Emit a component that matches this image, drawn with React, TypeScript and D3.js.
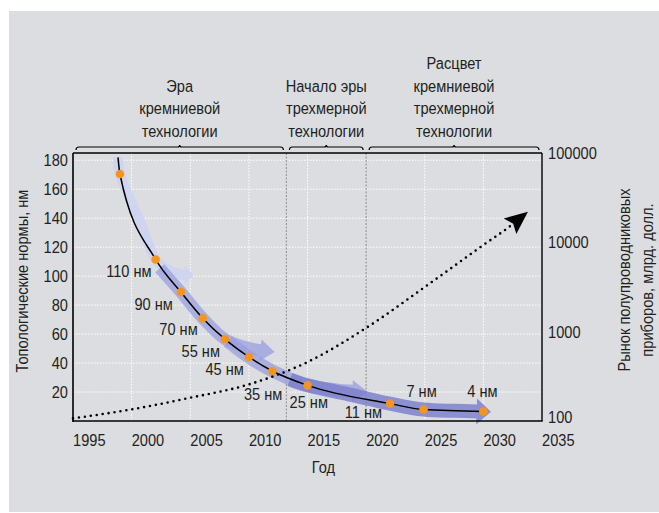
import React from "react";
import * as d3 from "d3";

const W = 659;
const H = 513;
const FONT = "'Liberation Sans', Arial, sans-serif";
const SX = 0.86; // horizontal condensing of the text

// ---- data ----
const xTicks = [1995, 2000, 2005, 2010, 2015, 2020, 2025, 2030, 2035];
const gridYears = [2000, 2005, 2010, 2015, 2025, 2030];
const yTicks = [20, 40, 60, 80, 100, 120, 140, 160, 180];
const rightTicks = [100, 1000, 10000, 100000];
const eraBoundaries = [2013.2, 2020];
const eraStarts = [1995, 2013.2, 2020];
const eraEnds = [2013.2, 2020, 2035];
const eraTitles = [
  ["Эра", "кремниевой", "технологии"],
  ["Начало эры", "трехмерной", "технологии"],
  ["Расцвет", "кремниевой", "трехмерной", "технологии"],
];

const lineStartYear = 1998.84;
const lineStartValue = 182;
const nodeYears = [1999.0, 2002.05, 2004.2, 2006.06, 2007.96, 2010.0, 2012.0, 2015.0, 2022.04, 2024.9, 2030.0];
const nodeValues = [170.5, 111.5, 89, 71, 56.5, 44.2, 34.5, 24.6, 12, 7.9, 6.6];
const nodeLabels = ["", "110 нм", "90 нм", "70 нм", "55 нм", "45 нм", "35 нм", "25 нм", "11 нм", "7 нм", "4 нм"];

const marketYears = [1995, 2000, 2005, 2010, 2015, 2020, 2025, 2030, 2032.5, 2033.8];
const marketValues = [107, 135, 182, 257, 457, 1100, 3160, 9330, 16000, 22000];

// trend arrows along the curve (year, nm); last point = arrow tip
const arrow1Years = [1998.84, 1999.0, 2000.7, 2002.05, 2002.95, 2004.1, 2004.65, 2005.3];
const arrow1Values = [182, 170.5, 138, 111.5, 105, 101.5, 100.8, 100.8];
const arrow2Years = [2002.4, 2004.2, 2006.06, 2007.96, 2009.5, 2011.1, 2012.2];
const arrow2Values = [105.5, 89, 71, 56.5, 51.5, 48.6, 47.6];
const arrow3Years = [2008.2, 2010.0, 2012.03, 2015.0, 2017.43, 2018.96, 2020.16];
const arrow3Values = [55, 44.2, 34.5, 24.6, 21.5, 20.5, 20.1];
const arrow4Years = [2013.5, 2015.0, 2018.6, 2022.04, 2024.9, 2027.6, 2029.55, 2030.65];
const arrow4Values = [28.7, 24.6, 18.2, 12, 7.9, 7.0, 6.6, 6.3];

// ---- layout ----
const labelDx = [0, -4, -8, -5, -5, -5, 10, -18, -8, -2, -1];
const labelDy = [0, 18, 18, 17, 17.5, 18, 29, 23, 14.7, -13, -14.5];
const labelAnchor = ["end", "end", "end", "end", "end", "end", "end", "start", "end", "middle", "middle"];

const x = d3.scaleLinear().domain([1995, 2035]).range([73, 542]);
const y = d3.scaleLinear().domain([0, 185]).range([421, 153]);
const yR = d3.scaleLog().domain([100, 100000]).range([421, 153]);

type P = [number, number];

function T(props: { x: number; y: number; rot?: number; anchor?: string; dy?: string; size?: number; children: any }) {
  const { x: tx, y: ty, rot = 0, anchor = "start", dy, size = 17, children } = props;
  return (
    <text
      transform={`translate(${tx},${ty}) rotate(${rot}) scale(${SX},1)`}
      textAnchor={anchor as any}
      dy={dy}
      fontSize={size}
      fill="#231f20"
    >
      {children}
    </text>
  );
}

function bandArrow(years: number[], values: number[], headW: number) {
  const px: P[] = years.map((yr, i) => [x(yr), y(values[i])]);
  const tip = px[px.length - 1];
  const base = px[px.length - 2];
  const body = px.slice(0, -1);
  const d = d3.line<P>().curve(d3.curveCatmullRom.alpha(0.5))(body) || "";
  const dx = tip[0] - base[0];
  const dy = tip[1] - base[1];
  const len = Math.hypot(dx, dy);
  const nx = -dy / len;
  const ny = dx / len;
  const ux = dx / len;
  const uy = dy / len;
  const b0: P = [base[0] - ux * 1.5, base[1] - uy * 1.5];
  const head = [
    [b0[0] + (nx * headW) / 2, b0[1] + (ny * headW) / 2],
    tip,
    [b0[0] - (nx * headW) / 2, b0[1] - (ny * headW) / 2],
  ]
    .map((p) => p.join(","))
    .join(" ");
  return { d, head };
}

function bracketPath(x0: number, x1: number, yb: number) {
  const xm = (x0 + x1) / 2;
  return `M${x0},${yb + 3} Q${x0},${yb} ${x0 + 3},${yb} H${xm - 2} Q${xm},${yb} ${xm},${yb - 2} Q${xm},${yb} ${xm + 2},${yb} H${x1 - 3} Q${x1},${yb} ${x1},${yb + 3}`;
}

export default function App() {
  const linePts: P[] = [[x(lineStartYear), y(lineStartValue)], ...nodeYears.map((yr, i) => [x(yr), y(nodeValues[i])] as P)];
  const mainLine = d3.line<P>().curve(d3.curveMonotoneX)(linePts) || "";

  const mPts: P[] = marketYears.map((yr, i) => [x(yr), yR(marketValues[i])]);
  const mTip = mPts[mPts.length - 1];
  const mPrev = mPts[mPts.length - 2];
  const mLen = Math.hypot(mTip[0] - mPrev[0], mTip[1] - mPrev[1]);
  const ux = (mTip[0] - mPrev[0]) / mLen;
  const uy = (mTip[1] - mPrev[1]) / mLen;
  const nx = -uy;
  const ny = ux;
  const L = 23;
  const HW = 10;
  const notch: P = [mTip[0] - ux * (L - 4), mTip[1] - uy * (L - 4)];
  const marketLine = d3.line<P>().curve(d3.curveMonotoneX)([...mPts.slice(0, -1), notch]) || "";
  const mHead = [
    mTip,
    [mTip[0] - ux * L + nx * HW, mTip[1] - uy * L + ny * HW],
    notch,
    [mTip[0] - ux * L - nx * HW, mTip[1] - uy * L - ny * HW],
  ]
    .map((p) => p.join(","))
    .join(" ");

  const arrows = [
    { ...bandArrow(arrow1Years, arrow1Values, 19), w: 10, color: "#cdd4f3", op: 0.85 },
    { ...bandArrow(arrow2Years, arrow2Values, 22), w: 12, color: "#999fdf", op: 0.75 },
    { ...bandArrow(arrow3Years, arrow3Values, 22), w: 13, color: "#999fdf", op: 0.75 },
    { ...bandArrow(arrow4Years, arrow4Values, 26), w: 14, color: "#797ecd", op: 0.8 },
  ];

  const x0 = x.range()[0];
  const x1 = x.range()[1];
  const yTop = y.range()[1];
  const yBot = y.range()[0];

  return (
    <svg width={W} height={H} style={{ position: "absolute", left: 0, top: 0, background: "#fff" }} fontFamily={FONT}>
      <rect x={9} y={11} width={W - 9} height={501} fill="#dcdde0" />

      {/* grid */}
      {yTicks.map((t) => (
        <line key={"gy" + t} x1={x0} x2={x1} y1={y(t)} y2={y(t)} stroke="#fff" strokeWidth={1} strokeDasharray="1.5 1.5" />
      ))}
      {gridYears.map((t) => (
        <line key={"gx" + t} x1={x(t)} x2={x(t)} y1={yTop} y2={yBot} stroke="#fff" strokeWidth={1} strokeDasharray="1.5 1.5" />
      ))}
      {eraBoundaries.map((t) => (
        <line key={"eb" + t} x1={x(t)} x2={x(t)} y1={yTop} y2={yBot} stroke="#9a9a9c" strokeWidth={1.2} strokeDasharray="2 1.5" />
      ))}

      {/* trend arrows */}
      {arrows.map((a, i) => (
        <g key={"ar" + i} opacity={a.op}>
          <path d={a.d} fill="none" stroke={a.color} strokeWidth={a.w} strokeLinejoin="round" />
          <polygon points={a.head} fill={a.color} />
        </g>
      ))}

      {/* market dotted line */}
      <path d={marketLine} fill="none" stroke="#000" strokeWidth={2.6} strokeDasharray="0 6" strokeLinecap="round" />
      <polygon points={mHead} fill="#000" />

      {/* main line */}
      <path d={mainLine} fill="none" stroke="#000" strokeWidth={1.5} />
      {nodeYears.map((yr, i) => (
        <circle key={"n" + i} cx={x(yr)} cy={y(nodeValues[i])} r={4.3} fill="#f7941d" />
      ))}
      {nodeLabels.map((lab, i) =>
        lab ? (
          <T key={"l" + i} x={x(nodeYears[i]) + labelDx[i]} y={y(nodeValues[i]) + labelDy[i]} anchor={labelAnchor[i]}>
            {lab}
          </T>
        ) : null
      )}

      {/* frame */}
      <line x1={x0} x2={x1} y1={yTop} y2={yTop} stroke="#000" strokeWidth={1.4} />
      <line x1={x1} x2={x1} y1={yTop} y2={yBot} stroke="#000" strokeWidth={1.4} />
      <line x1={x0} x2={x0} y1={yTop} y2={yBot + 0.8} stroke="#000" strokeWidth={1.6} />
      <line x1={x0 - 0.8} x2={x1 + 0.7} y1={yBot} y2={yBot} stroke="#000" strokeWidth={1.6} />

      {/* ticks */}
      {yTicks.map((t) => (
        <T key={"yt" + t} x={68} y={y(t)} dy="0.36em" anchor="end">
          {t}
        </T>
      ))}
      {xTicks.map((t) => (
        <T key={"xt" + t} x={x(t)} y={446}>
          {t}
        </T>
      ))}
      {rightTicks.map((t) => (
        <T key={"rt" + t} x={548} y={Math.min(yR(t), 417)} dy="0.36em">
          {t}
        </T>
      ))}

      {/* era brackets */}
      {eraStarts.map((s, i) => {
        const bx0 = x(s) + 3;
        const bx1 = x(eraEnds[i]) - 3;
        const cx = (bx0 + bx1) / 2;
        const lines = eraTitles[i];
        return (
          <g key={"era" + i}>
            <path d={bracketPath(bx0, bx1, 147)} fill="none" stroke="#000" strokeWidth={1.2} />
            {lines.map((ln, j) => (
              <T key={j} x={cx} y={136.5 - 22.5 * (lines.length - 1 - j)} anchor="middle">
                {ln}
              </T>
            ))}
          </g>
        );
      })}

      {/* axis titles */}
      <T x={(x0 + x1) / 2 + 16} y={473} anchor="middle">
        Год
      </T>
      <T x={28} y={281} rot={-90} anchor="middle">
        Топологические нормы, нм
      </T>
      <T x={630} y={280} rot={-90} anchor="middle">
        Рынок полупроводниковых
      </T>
      <T x={653} y={280} rot={-90} anchor="middle">
        приборов, млрд. долл.
      </T>
    </svg>
  );
}
